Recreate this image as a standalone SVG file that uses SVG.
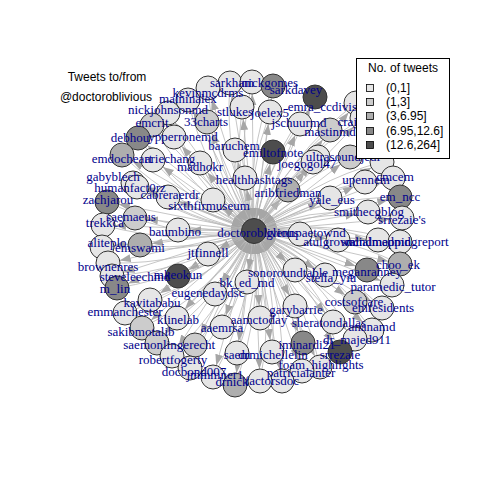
<svg xmlns="http://www.w3.org/2000/svg" width="480" height="480" viewBox="0 0 480 480">
<style>
.e{fill:none;stroke:#B8B8B8;stroke-width:0.8;marker-end:url(#ah)}
circle{stroke:#333;stroke-width:1}
.l1{fill:#E6E6E6}.l2{fill:#CCCCCC}.l3{fill:#AEAEAE}.l4{fill:#888888}.l5{fill:#4D4D4D}
#labels text{font-family:"Liberation Serif","Times New Roman",serif;font-size:13px;fill:#00008B;text-anchor:middle}
.t{font-family:"Liberation Sans",Arial,sans-serif;font-size:12px;fill:#000}
</style>
<defs>
<marker id="ah" markerUnits="userSpaceOnUse" markerWidth="30" markerHeight="10" viewBox="0 0 30 10" refX="23" refY="5" orient="auto"><path d="M0,1 L11,5 L0,9 z" fill="#A6A6A6"/></marker>
</defs>
<rect width="480" height="480" fill="#fff"/>
<g id="connectors">
<path class="e" d="M254,231L208,88"/><path class="e" d="M208,88Q214,165 254,231"/>
<path class="e" d="M254,231L230,83"/><path class="e" d="M230,83Q224,160 254,231"/>
<path class="e" d="M254,231L252,82"/><path class="e" d="M252,82Q235,157 254,231"/>
<path class="e" d="M254,231L273,86"/><path class="e" d="M273,86Q246,156 254,231"/>
<path class="e" d="M254,231L315,97"/><path class="e" d="M315,97Q268,157 254,231"/>
<path class="e" d="M254,231L188,100"/><path class="e" d="M188,100Q205,173 254,231"/>
<path class="e" d="M254,231L168,113"/><path class="e" d="M168,113Q197,182 254,231"/>
<path class="e" d="M254,231L152,125"/><path class="e" d="M152,125Q190,190 254,231"/>
<path class="e" d="M254,231L138,138"/><path class="e" d="M138,138Q185,198 254,231"/>
<path class="e" d="M254,231L174,137"/><path class="e" d="M174,137Q203,194 254,231"/>
<path class="e" d="M254,231L122,155"/><path class="e" d="M122,155Q179,209 254,231"/>
<path class="e" d="M254,231L153,160"/><path class="e" d="M153,160Q195,208 254,231"/>
<path class="e" d="M254,231L133,183"/><path class="e" d="M133,183Q188,221 254,231"/>
<path class="e" d="M254,231L137,187"/><path class="e" d="M137,187Q190,223 254,231"/>
<path class="e" d="M254,231L168,197"/><path class="e" d="M168,197Q207,224 254,231"/>
<path class="e" d="M254,231L107,202"/><path class="e" d="M107,202Q177,234 254,231"/>
<path class="e" d="M254,231L135,218"/><path class="e" d="M135,218Q193,239 254,231"/>
<path class="e" d="M254,231L103,225"/><path class="e" d="M103,225Q178,246 254,231"/>
<path class="e" d="M254,231L140,245"/><path class="e" d="M140,245Q199,252 254,231"/>
<path class="e" d="M254,231L102,247"/><path class="e" d="M102,247Q180,257 254,231"/>
<path class="e" d="M254,231L178,230"/><path class="e" d="M178,230Q216,240 254,231"/>
<path class="e" d="M254,231L108,263"/><path class="e" d="M108,263Q185,265 254,231"/>
<path class="e" d="M254,231L112,276"/><path class="e" d="M112,276Q188,271 254,231"/>
<path class="e" d="M254,231L178,276"/><path class="e" d="M178,276Q221,263 254,231"/>
<path class="e" d="M254,231L117,288"/><path class="e" d="M117,288Q192,276 254,231"/>
<path class="e" d="M254,231L150,300"/><path class="e" d="M150,300Q210,278 254,231"/>
<path class="e" d="M254,231L125,313"/><path class="e" d="M125,313Q199,288 254,231"/>
<path class="e" d="M254,231L142,328"/><path class="e" d="M142,328Q210,293 254,231"/>
<path class="e" d="M254,231L157,343"/><path class="e" d="M157,343Q219,299 254,231"/>
<path class="e" d="M254,231L195,345"/><path class="e" d="M195,345Q238,295 254,231"/>
<path class="e" d="M254,231L172,356"/><path class="e" d="M172,356Q228,303 254,231"/>
<path class="e" d="M254,231L190,368"/><path class="e" d="M190,368Q238,307 254,231"/>
<path class="e" d="M254,231L213,377"/><path class="e" d="M213,377Q251,309 254,231"/>
<path class="e" d="M254,231L235,385"/><path class="e" d="M235,385Q263,310 254,231"/>
<path class="e" d="M254,231L260,381"/><path class="e" d="M260,381Q275,305 254,231"/>
<path class="e" d="M254,231L282,381"/><path class="e" d="M282,381Q286,303 254,231"/>
<path class="e" d="M254,231L237,353"/><path class="e" d="M237,353Q260,294 254,231"/>
<path class="e" d="M254,231L272,352"/><path class="e" d="M272,352Q278,289 254,231"/>
<path class="e" d="M254,231L302,371"/><path class="e" d="M302,371Q295,295 254,231"/>
<path class="e" d="M254,231L320,367"/><path class="e" d="M320,367Q303,291 254,231"/>
<path class="e" d="M254,231L303,343"/><path class="e" d="M303,343Q292,281 254,231"/>
<path class="e" d="M254,231L340,352"/><path class="e" d="M340,352Q312,281 254,231"/>
<path class="e" d="M254,231L355,339"/><path class="e" d="M355,339Q317,273 254,231"/>
<path class="e" d="M254,231L372,330"/><path class="e" d="M372,330Q325,266 254,231"/>
<path class="e" d="M254,231L333,322"/><path class="e" d="M333,322Q304,267 254,231"/>
<path class="e" d="M254,231L382,308"/><path class="e" d="M382,308Q327,254 254,231"/>
<path class="e" d="M254,231L355,302"/><path class="e" d="M355,302Q313,254 254,231"/>
<path class="e" d="M254,231L392,285"/><path class="e" d="M392,285Q330,241 254,231"/>
<path class="e" d="M254,231L400,264"/><path class="e" d="M400,264Q331,230 254,231"/>
<path class="e" d="M254,231L367,270"/><path class="e" d="M367,270Q315,237 254,231"/>
<path class="e" d="M254,231L325,275"/><path class="e" d="M325,275Q295,244 254,231"/>
<path class="e" d="M254,231L295,270"/><path class="e" d="M295,270Q279,246 254,231"/>
<path class="e" d="M254,231L295,306"/><path class="e" d="M295,306Q284,264 254,231"/>
<path class="e" d="M254,231L260,318"/><path class="e" d="M260,318Q267,274 254,231"/>
<path class="e" d="M254,231L222,327"/><path class="e" d="M222,327Q250,283 254,231"/>
<path class="e" d="M254,231L177,318"/><path class="e" d="M177,318Q226,284 254,231"/>
<path class="e" d="M254,231L215,294"/><path class="e" d="M215,294Q242,267 254,231"/>
<path class="e" d="M254,231L247,282"/><path class="e" d="M247,282Q257,257 254,231"/>
<path class="e" d="M254,231L208,254"/><path class="e" d="M208,254Q234,248 254,231"/>
<path class="e" d="M254,231L338,240"/><path class="e" d="M338,240Q297,225 254,231"/>
<path class="e" d="M254,231L378,240"/><path class="e" d="M378,240Q317,221 254,231"/>
<path class="e" d="M254,231L400,242"/><path class="e" d="M400,242Q328,219 254,231"/>
<path class="e" d="M254,231L300,234"/><path class="e" d="M300,234Q277,227 254,231"/>
<path class="e" d="M254,231L402,218"/><path class="e" d="M402,218Q326,207 254,231"/>
<path class="e" d="M254,231L368,212"/><path class="e" d="M368,212Q309,208 254,231"/>
<path class="e" d="M254,231L400,197"/><path class="e" d="M400,197Q323,197 254,231"/>
<path class="e" d="M254,231L330,198"/><path class="e" d="M330,198Q288,205 254,231"/>
<path class="e" d="M254,231L365,182"/><path class="e" d="M365,182Q304,193 254,231"/>
<path class="e" d="M254,231L393,178"/><path class="e" d="M393,178Q317,188 254,231"/>
<path class="e" d="M254,231L288,190"/><path class="e" d="M288,190Q266,206 254,231"/>
<path class="e" d="M254,231L245,178"/><path class="e" d="M245,178Q243,206 254,231"/>
<path class="e" d="M254,231L200,163"/><path class="e" d="M200,163Q219,204 254,231"/>
<path class="e" d="M254,231L213,200"/><path class="e" d="M213,200Q230,220 254,231"/>
<path class="e" d="M254,231L313,162"/><path class="e" d="M313,162Q275,189 254,231"/>
<path class="e" d="M254,231L273,152"/><path class="e" d="M273,152Q254,189 254,231"/>
<path class="e" d="M254,231L235,150"/><path class="e" d="M235,150Q235,193 254,231"/>
<path class="e" d="M254,231L318,157"/><path class="e" d="M318,157Q277,186 254,231"/>
<path class="e" d="M254,231L350,157"/><path class="e" d="M350,157Q293,182 254,231"/>
<path class="e" d="M254,231L382,162"/><path class="e" d="M382,162Q310,181 254,231"/>
<path class="e" d="M254,231L300,124"/><path class="e" d="M300,124Q264,172 254,231"/>
<path class="e" d="M254,231L330,130"/><path class="e" d="M330,130Q280,171 254,231"/>
<path class="e" d="M254,231L362,118"/><path class="e" d="M362,118Q293,162 254,231"/>
<path class="e" d="M254,231L356,103"/><path class="e" d="M356,103Q289,155 254,231"/>
<path class="e" d="M254,231L242,107"/><path class="e" d="M242,107Q233,170 254,231"/>
<path class="e" d="M254,231L270,112"/><path class="e" d="M270,112Q248,170 254,231"/>
<path class="e" d="M254,231L207,122"/><path class="e" d="M207,122Q217,182 254,231"/>
</g>
<g id="nodes">
<g id="n-sarkham"><circle cx="230" cy="83" r="12" class="l1"/></g>
<g id="n-nickgomes"><circle cx="252" cy="82" r="12" class="l1"/></g>
<g id="n-sarkdavey"><circle cx="273" cy="86" r="12" class="l4"/></g>
<g id="n-dark1"><circle cx="315" cy="97" r="12" class="l5"/></g>
<g id="n-maininalex"><circle cx="188" cy="100" r="12" class="l1"/></g>
<g id="n-kevinmcdrms"><circle cx="208" cy="88" r="12" class="l1"/></g>
<g id="n-emra"><circle cx="356" cy="103" r="12" class="l1"/></g>
<g id="n-crai"><circle cx="362" cy="118" r="12" class="l1"/></g>
<g id="n-nickjohnsonmd"><circle cx="168" cy="113" r="12" class="l1"/></g>
<g id="n-stlukes"><circle cx="242" cy="107" r="12" class="l1"/></g>
<g id="n-joelex5"><circle cx="270" cy="112" r="12" class="l1"/></g>
<g id="n-33charts"><circle cx="207" cy="122" r="12" class="l2"/></g>
<g id="n-jschuurmd"><circle cx="300" cy="124" r="12" class="l1"/></g>
<g id="n-mastinmd"><circle cx="330" cy="130" r="12" class="l2"/></g>
<g id="n-emcrit"><circle cx="152" cy="125" r="12" class="l2"/></g>
<g id="n-debhou"><circle cx="138" cy="138" r="12" class="l4"/></g>
<g id="n-ypperronemd"><circle cx="174" cy="137" r="12" class="l1"/></g>
<g id="n-baruchem"><circle cx="235" cy="150" r="12" class="l1"/></g>
<g id="n-emiltofnote"><circle cx="273" cy="152" r="12" class="l5"/></g>
<g id="n-x2"><circle cx="350" cy="157" r="12" class="l2"/></g>
<g id="n-x3"><circle cx="382" cy="162" r="12" class="l1"/></g>
<g id="n-ultrasoundjedi"><circle cx="318" cy="157" r="12" class="l1"/></g>
<g id="n-joegogol47"><circle cx="313" cy="162" r="12" class="l1"/></g>
<g id="n-emdocheart"><circle cx="122" cy="155" r="12" class="l3"/></g>
<g id="n-madhokr"><circle cx="200" cy="163" r="12" class="l1"/></g>
<g id="n-ariechang"><circle cx="153" cy="160" r="12" class="l1"/></g>
<g id="n-healthhashtags"><circle cx="245" cy="178" r="12" class="l1"/></g>
<g id="n-upennem"><circle cx="365" cy="182" r="12" class="l1"/></g>
<g id="n-cmcem"><circle cx="393" cy="178" r="12" class="l1"/></g>
<g id="n-aribfriedman"><circle cx="288" cy="190" r="12" class="l3"/></g>
<g id="n-gabyblech"><circle cx="133" cy="183" r="12" class="l1"/></g>
<g id="n-humanfact0rz"><circle cx="137" cy="187" r="12" class="l1"/></g>
<g id="n-cabreraerdr"><circle cx="168" cy="197" r="12" class="l1"/></g>
<g id="n-zachjarou"><circle cx="107" cy="202" r="12" class="l4"/></g>
<g id="n-em_ncc"><circle cx="400" cy="197" r="12" class="l4"/></g>
<g id="n-yale_eus"><circle cx="330" cy="198" r="12" class="l1"/></g>
<g id="n-sixthfirmuseum"><circle cx="213" cy="200" r="12" class="l1"/></g>
<g id="n-smithecgblog"><circle cx="368" cy="212" r="12" class="l1"/></g>
<g id="n-srrezaies"><circle cx="402" cy="218" r="12" class="l1"/></g>
<g id="n-saemaeus"><circle cx="135" cy="218" r="12" class="l2"/></g>
<g id="n-trekkca"><circle cx="103" cy="225" r="12" class="l1"/></g>
<g id="n-baumbino"><circle cx="178" cy="230" r="12" class="l1"/></g>
<g id="n-glennpaetownd"><circle cx="300" cy="234" r="12" class="l1"/></g>
<g id="n-doctoroblivious"><circle cx="254" cy="231" r="12.5" class="l5"/></g>
<g id="n-atulgrowal"><circle cx="338" cy="240" r="12" class="l1"/></g>
<g id="n-socialmedmd"><circle cx="378" cy="240" r="12" class="l1"/></g>
<g id="n-mindmappingreport"><circle cx="400" cy="242" r="12" class="l1"/></g>
<g id="n-emswami"><circle cx="140" cy="245" r="12" class="l3"/></g>
<g id="n-aliteplo"><circle cx="102" cy="247" r="12" class="l1"/></g>
<g id="n-jtfinnell"><circle cx="208" cy="254" r="12" class="l1"/></g>
<g id="n-brownenres"><circle cx="108" cy="263" r="12" class="l1"/></g>
<g id="n-steveleechmd"><circle cx="112" cy="276" r="12" class="l1"/></g>
<g id="n-mkeokun"><circle cx="178" cy="276" r="12" class="l5"/></g>
<g id="n-m_lin"><circle cx="117" cy="288" r="12" class="l4"/></g>
<g id="n-choo_ek"><circle cx="400" cy="264" r="12" class="l3"/></g>
<g id="n-meganranney"><circle cx="367" cy="270" r="12" class="l4"/></g>
<g id="n-sonoroundtable"><circle cx="295" cy="270" r="12" class="l1"/></g>
<g id="n-stella_yiu"><circle cx="325" cy="275" r="12" class="l1"/></g>
<g id="n-bk_ed_md"><circle cx="247" cy="282" r="12" class="l1"/></g>
<g id="n-paramedic_tutor"><circle cx="392" cy="285" r="12" class="l1"/></g>
<g id="n-eugenedaydsc"><circle cx="215" cy="294" r="12" class="l1"/></g>
<g id="n-kavitababu"><circle cx="150" cy="300" r="12" class="l1"/></g>
<g id="n-costsofcare"><circle cx="355" cy="302" r="12" class="l2"/></g>
<g id="n-garybarrie"><circle cx="295" cy="306" r="12" class="l1"/></g>
<g id="n-emresidents"><circle cx="382" cy="308" r="12" class="l1"/></g>
<g id="n-emmanchester"><circle cx="125" cy="313" r="12" class="l1"/></g>
<g id="n-klinelab"><circle cx="177" cy="318" r="12" class="l1"/></g>
<g id="n-aamctoday"><circle cx="260" cy="318" r="12" class="l1"/></g>
<g id="n-sheratondallas"><circle cx="333" cy="322" r="12" class="l1"/></g>
<g id="n-aaemrsa"><circle cx="222" cy="327" r="12" class="l1"/></g>
<g id="n-sakibmotalib"><circle cx="142" cy="328" r="12" class="l2"/></g>
<g id="n-ananamd"><circle cx="372" cy="330" r="12" class="l1"/></g>
<g id="n-dr_majed911"><circle cx="355" cy="339" r="12" class="l1"/></g>
<g id="n-iminardi21"><circle cx="303" cy="343" r="12" class="l4"/></g>
<g id="n-saemonlin"><circle cx="157" cy="343" r="12" class="l2"/></g>
<g id="n-gerecht"><circle cx="195" cy="345" r="12" class="l2"/></g>
<g id="n-srrezaie"><circle cx="340" cy="352" r="12" class="l5"/></g>
<g id="n-saem"><circle cx="237" cy="353" r="12" class="l1"/></g>
<g id="n-drmichellelin"><circle cx="272" cy="352" r="12" class="l1"/></g>
<g id="n-robertfogerty"><circle cx="172" cy="356" r="12" class="l1"/></g>
<g id="n-foam_highlights"><circle cx="320" cy="367" r="12" class="l1"/></g>
<g id="n-patricialanter"><circle cx="302" cy="371" r="12" class="l1"/></g>
<g id="n-docbond007"><circle cx="190" cy="368" r="12" class="l1"/></g>
<g id="n-jmmmner1"><circle cx="213" cy="377" r="12" class="l1"/></g>
<g id="n-x4"><circle cx="282" cy="381" r="12" class="l1"/></g>
<g id="n-factorsdoc"><circle cx="260" cy="381" r="12" class="l1"/></g>
<g id="n-drnick"><circle cx="235" cy="385" r="12" class="l3"/></g>
</g>
<g id="labels">
<text x="232" y="87">sarkham</text>
<text x="270" y="87">nickgomes</text>
<text x="296" y="94">sarkdavey</text>
<text x="188" y="103">maininalex</text>
<text x="208" y="97">kevinmcdrms</text>
<text x="357" y="111" style="text-anchor:end">emra_ccdivis</text>
<text x="357" y="126" style="text-anchor:end">crai</text>
<text x="168" y="114">nickjohnsonmd</text>
<text x="235" y="116">stlukes</text>
<text x="270" y="117">joelex5</text>
<text x="206" y="126">33charts</text>
<text x="299" y="127">jschuurmd</text>
<text x="330" y="136">mastinmd</text>
<text x="152" y="127">emcrit</text>
<text x="130" y="142">debhou</text>
<text x="183" y="141">ypperronemd</text>
<text x="234" y="150">baruchem</text>
<text x="273" y="157">emiltofnote</text>
<text x="343" y="161">ultrasoundjedi</text>
<text x="307" y="168">joegogol47</text>
<text x="122" y="163">emdocheart</text>
<text x="200" y="171">madhokr</text>
<text x="170" y="163">ariechang</text>
<text x="254" y="184">healthhashtags</text>
<text x="366" y="184">upennem</text>
<text x="395" y="181">cmcem</text>
<text x="288" y="197">aribfriedman</text>
<text x="113" y="181">gabyblech</text>
<text x="130" y="192">humanfact0rz</text>
<text x="170" y="199">cabreraerdr</text>
<text x="108" y="204">zachjarou</text>
<text x="400" y="201">em_ncc</text>
<text x="332" y="204">yale_eus</text>
<text x="209" y="210">sixthfirmuseum</text>
<text x="369" y="216">smithecgblog</text>
<text x="402" y="224">srrezaie's</text>
<text x="131" y="221">saemaeus</text>
<text x="105" y="227">trekkca</text>
<text x="175" y="236">baumbino</text>
<text x="258" y="237">doctoroblivious</text>
<text x="306" y="237">glennpaetownd</text>
<text x="331" y="246">atulgrowal</text>
<text x="376" y="246">socialmedmd</text>
<text x="397" y="246">mindmappingreport</text>
<text x="140" y="252">emswami</text>
<text x="107" y="247">aliteplo</text>
<text x="208" y="257">jtfinnell</text>
<text x="108" y="271">brownenres</text>
<text x="135" y="281">steveleechmd</text>
<text x="178" y="279">mkeokun</text>
<text x="115" y="293">m_lin</text>
<text x="398" y="269">choo_ek</text>
<text x="367" y="276">meganranney</text>
<text x="288" y="277">sonoroundtable</text>
<text x="331" y="282">stella_yiu</text>
<text x="247" y="287">bk_ed_md</text>
<text x="393" y="291">paramedic_tutor</text>
<text x="208" y="297">eugenedaydsc</text>
<text x="152" y="307">kavitababu</text>
<text x="354" y="306">costsofcare</text>
<text x="296" y="314">garybarrie</text>
<text x="383" y="312">emresidents</text>
<text x="125" y="316">emmanchester</text>
<text x="178" y="324">klinelab</text>
<text x="259" y="324">aamctoday</text>
<text x="329" y="327">sheratondallas</text>
<text x="222" y="332">aaemrsa</text>
<text x="141" y="336">sakibmotalib</text>
<text x="372" y="331">ananamd</text>
<text x="357" y="344">dr_majed911</text>
<text x="307" y="349">iminardi21</text>
<text x="150" y="349">saemonlin</text>
<text x="196" y="349">gerecht</text>
<text x="340" y="359">srrezaie</text>
<text x="237" y="359">saem</text>
<text x="273" y="359">drmichellelin</text>
<text x="173" y="364">robertfogerty</text>
<text x="321" y="369">foam_highlights</text>
<text x="301" y="377">patricialanter</text>
<text x="194" y="376">docbond007</text>
<text x="215" y="379">jmmmner1</text>
<text x="272" y="385">factorsdoc</text>
<text x="232" y="386">drnick</text>
</g>
<g id="legend">
<rect x="356.5" y="58.5" width="93" height="100" fill="#fff" stroke="#000" stroke-width="1"/>
<text class="t" x="403" y="72" text-anchor="middle">No. of tweets</text>
<rect x="366.5" y="84.5" width="7" height="7" class="l1" stroke="#000" stroke-width="0.8"/><text class="t" x="386" y="92">(0,1]</text>
<rect x="366.5" y="98.5" width="7" height="7" class="l2" stroke="#000" stroke-width="0.8"/><text class="t" x="386" y="106">(1,3]</text>
<rect x="366.5" y="112.5" width="7" height="7" class="l3" stroke="#000" stroke-width="0.8"/><text class="t" x="386" y="120">(3,6.95]</text>
<rect x="366.5" y="127.5" width="7" height="7" class="l4" stroke="#000" stroke-width="0.8"/><text class="t" x="386" y="135">(6.95,12.6]</text>
<rect x="366.5" y="141.5" width="7" height="7" class="l5" stroke="#000" stroke-width="0.8"/><text class="t" x="386" y="149">(12.6,264]</text>
</g>
<g id="title">
<text class="t" x="107" y="81" text-anchor="middle">Tweets to/from</text>
<text class="t" x="106" y="101" text-anchor="middle">@doctoroblivious</text>
</g>
</svg>
